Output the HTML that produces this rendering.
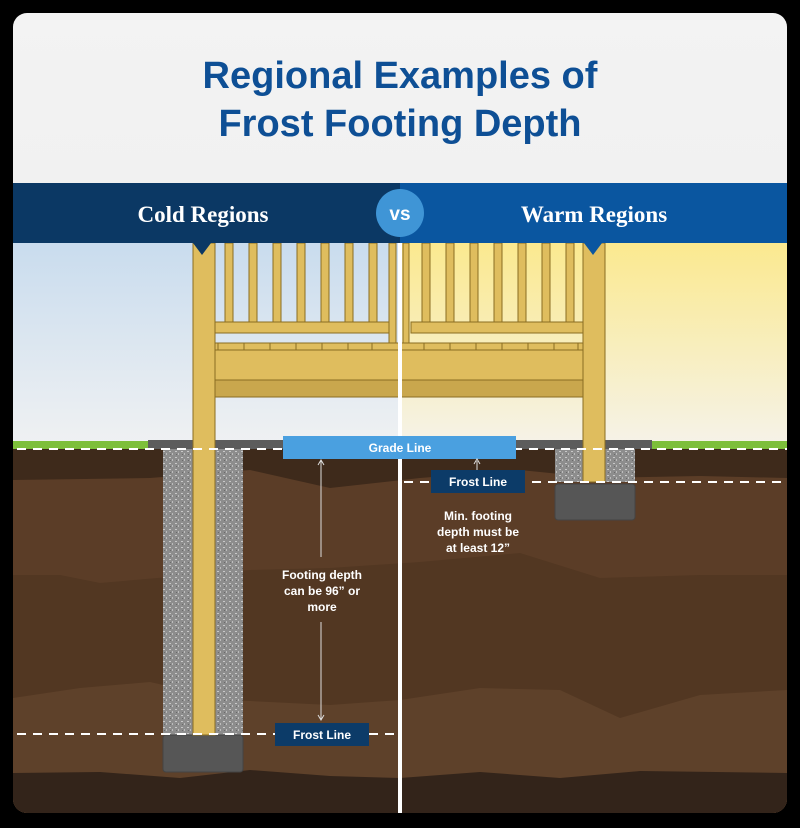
<!DOCTYPE html>
<html><head><meta charset="utf-8"><style>
html,body{margin:0;padding:0;background:#000;width:800px;height:828px;overflow:hidden}
svg{display:block}
text{font-family:"Liberation Sans",sans-serif}
</style></head><body>
<svg width="800" height="828" viewBox="0 0 800 828" xmlns="http://www.w3.org/2000/svg">
<defs>
<linearGradient id="tg" x1="0" y1="0" x2="0" y2="1"><stop offset="0" stop-color="#f3f3f3"/><stop offset="1" stop-color="#e9e9e9"/></linearGradient>
<linearGradient id="sl" x1="0" y1="0" x2="0" y2="1"><stop offset="0" stop-color="#c9dcee"/><stop offset="1" stop-color="#f1f2f3"/></linearGradient>
<linearGradient id="sr" x1="0" y1="0" x2="0" y2="1"><stop offset="0" stop-color="#fbe98f"/><stop offset="1" stop-color="#f5f3ec"/></linearGradient>
<pattern id="gr" width="6" height="6" patternUnits="userSpaceOnUse"><rect width="6" height="6" fill="#8d8d8d"/><rect x="1" y="1" width="2" height="1" fill="#c8c8c8"/><rect x="4" y="3" width="1" height="2" fill="#bdbdbd"/><rect x="2" y="4" width="1" height="1" fill="#6a6a6a"/></pattern>
<clipPath id="card"><rect x="13" y="13" width="774" height="800" rx="14"/></clipPath>
</defs>
<g clip-path="url(#card)">
<rect x="13" y="13" width="774" height="800" fill="url(#tg)"/>
<text x="400" y="88" text-anchor="middle" font-size="38" font-weight="bold" fill="#0e4f95">Regional Examples of</text>
<text x="400" y="136" text-anchor="middle" font-size="38" font-weight="bold" fill="#0e4f95">Frost Footing Depth</text>
<!-- sky -->
<rect x="13" y="243" width="387" height="210" fill="url(#sl)"/>
<rect x="400" y="243" width="387" height="210" fill="url(#sr)"/>
<rect x="13" y="441" width="774" height="8" fill="#7dbf3a"/>
<!-- soil -->
<rect x="13" y="449" width="774" height="364" fill="#3e2a1b"/>
<path d="M13 480 L150 478 L250 470 L330 488 L420 478 L520 470 L600 478 L700 476 L787 478 L787 813 L13 813Z" fill="#5b3d27"/>
<path d="M13 575 L60 575 L100 583 L250 570 L330 568 L420 562 L520 553 L600 578 L700 575 L787 575 L787 813 L13 813Z" fill="#523722"/>
<path d="M13 698 L80 688 L150 682 L230 700 L330 705 L400 700 L480 688 L560 690 L620 718 L700 695 L787 690 L787 813 L13 813Z" fill="#5e412a"/>
<path d="M13 773 L100 772 L180 778 L250 770 L330 776 L400 778 L480 772 L560 778 L640 771 L787 773 L787 813 L13 813Z" fill="#33241a"/>
<rect x="148" y="440" width="504" height="9" fill="#5c5c5c"/>
<!-- left footing -->
<rect x="163" y="449" width="80" height="286" fill="url(#gr)"/>
<rect x="163" y="735" width="80" height="37" rx="3" fill="#565656" stroke="#444"/>
<!-- right footing -->
<rect x="555" y="449" width="80" height="33" fill="url(#gr)"/>
<rect x="555" y="484" width="80" height="36" rx="3" fill="#565656" stroke="#444"/>
<!-- deck -->
<g fill="#dfbd5e" stroke="#8a6d22" stroke-width="1">
<rect x="225" y="243" width="8" height="80"/><rect x="249" y="243" width="8" height="80"/><rect x="273" y="243" width="8" height="80"/><rect x="297" y="243" width="8" height="80"/><rect x="321" y="243" width="8" height="80"/><rect x="345" y="243" width="8" height="80"/><rect x="369" y="243" width="8" height="80"/><rect x="389" y="243" width="7" height="100"/>
<rect x="403" y="243" width="6" height="100"/><rect x="422" y="243" width="8" height="80"/><rect x="446" y="243" width="8" height="80"/><rect x="470" y="243" width="8" height="80"/><rect x="494" y="243" width="8" height="80"/><rect x="518" y="243" width="8" height="80"/><rect x="542" y="243" width="8" height="80"/><rect x="566" y="243" width="8" height="80"/>
<rect x="215" y="322" width="174" height="11"/><rect x="411" y="322" width="172" height="11"/>
<rect x="193" y="343" width="412" height="7"/>
<rect x="193" y="350" width="412" height="30"/>
<rect x="215" y="380" width="368" height="17" fill="#c9a74d"/>
<rect x="193" y="243" width="22" height="492"/>
<rect x="583" y="243" width="22" height="239"/>
</g>
<g stroke="#8a6d22" stroke-width="1">
<line x1="218" y1="343" x2="218" y2="350"/><line x1="244" y1="343" x2="244" y2="350"/><line x1="270" y1="343" x2="270" y2="350"/><line x1="296" y1="343" x2="296" y2="350"/><line x1="322" y1="343" x2="322" y2="350"/><line x1="348" y1="343" x2="348" y2="350"/><line x1="372" y1="343" x2="372" y2="350"/><line x1="424" y1="343" x2="424" y2="350"/><line x1="450" y1="343" x2="450" y2="350"/><line x1="476" y1="343" x2="476" y2="350"/><line x1="502" y1="343" x2="502" y2="350"/><line x1="528" y1="343" x2="528" y2="350"/><line x1="554" y1="343" x2="554" y2="350"/><line x1="578" y1="343" x2="578" y2="350"/>
</g>
<!-- dashed lines -->
<g stroke="#fff" stroke-width="2" stroke-dasharray="9,7">
<line x1="17" y1="449" x2="787" y2="449"/>
<line x1="17" y1="734" x2="396" y2="734"/>
<line x1="404" y1="482" x2="787" y2="482"/>
</g>
<!-- banner -->
<rect x="13" y="183" width="387" height="60" fill="#0b3864"/>
<rect x="400" y="183" width="387" height="60" fill="#0a56a0"/>
<path d="M193 243 L211 243 L202 255Z" fill="#0b3864"/>
<path d="M584 243 L602 243 L593 255Z" fill="#0a56a0"/>
<text x="203" y="222" text-anchor="middle" font-family="Liberation Serif,serif" font-size="23" font-weight="bold" fill="#fff" style="font-family:'Liberation Serif',serif">Cold Regions</text>
<text x="594" y="222" text-anchor="middle" font-size="23" font-weight="bold" fill="#fff" style="font-family:'Liberation Serif',serif">Warm Regions</text>
<rect x="398" y="243" width="4" height="570" fill="#fff"/>
<circle cx="400" cy="213" r="24" fill="#3f95d6"/>
<text x="400" y="220" text-anchor="middle" font-size="19" font-weight="bold" fill="#fff">vs</text>
<!-- labels -->
<rect x="283" y="436" width="233" height="23" fill="#4aa0e0"/>
<text x="400" y="452" text-anchor="middle" font-size="12" font-weight="bold" fill="#fff">Grade Line</text>
<rect x="275" y="723" width="94" height="23" fill="#0c3b68"/>
<text x="322" y="739" text-anchor="middle" font-size="12" font-weight="bold" fill="#fff">Frost Line</text>
<rect x="431" y="470" width="94" height="23" fill="#0c3b68"/>
<text x="478" y="486" text-anchor="middle" font-size="12" font-weight="bold" fill="#fff">Frost Line</text>
<g stroke="#ddd" stroke-width="1" fill="none">
<line x1="321" y1="461" x2="321" y2="557"/><path d="M318 465 L321 460 L324 465"/>
<line x1="321" y1="622" x2="321" y2="720"/><path d="M318 715 L321 720 L324 715"/>
<line x1="477" y1="461" x2="477" y2="470"/><path d="M474 464 L477 459 L480 464"/>
</g>
<g font-size="12" font-weight="bold" fill="#fff" text-anchor="middle">
<text x="322" y="579">Footing depth</text><text x="322" y="595">can be 96” or</text><text x="322" y="611">more</text>
<text x="478" y="520">Min. footing</text><text x="478" y="536">depth must be</text><text x="478" y="552">at least 12”</text>
</g>
</g>
</svg>
</body></html>
